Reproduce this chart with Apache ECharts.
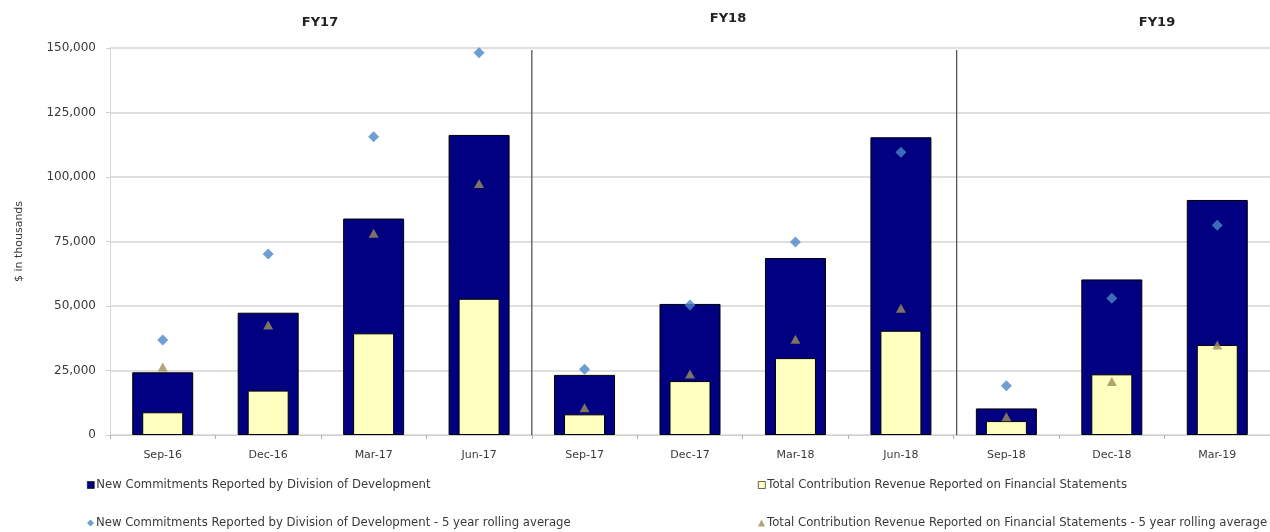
<!DOCTYPE html>
<html>
<head>
<meta charset="utf-8">
<script src="https://cdn.jsdelivr.net/npm/echarts@6/dist/echarts.min.js"></script>
<style>
html,body{margin:0;padding:0;background:#fff;}
#c{width:1270px;height:532px;}
</style>
</head>
<body>
<div id="c"></div>
<script>
var categories = ['Sep-16','Dec-16','Mar-17','Jun-17','Sep-17','Dec-17','Mar-18','Jun-18','Sep-18','Dec-18','Mar-19'];
var newCommitments = [24300, 47400, 83900, 116300, 23300, 50800, 68600, 115400, 10300, 60300, 91100];
var contributionRevenue = [8800, 17200, 39400, 52800, 8000, 20900, 29800, 40400, 5400, 23500, 34900];
var commitmentsAvg = [36800, 70200, 115600, 148200, 25500, 50400, 74800, 109600, 19100, 53000, 81300];
var revenueAvg = [26400, 42600, 78200, 97500, 10600, 23600, 37100, 49100, 7100, 20700, 34900];
var yTicks = [0, 25000, 50000, 75000, 100000, 125000, 150000];
var fiscalYears = ['FY17', 'FY18', 'FY19'];
var fyBoundaries = [['Jun-17','Sep-17'], ['Jun-18','Sep-18']];

var names = [
  'New Commitments Reported by Division of Development',
  'Total Contribution Revenue Reported on Financial Statements',
  'New Commitments Reported by Division of Development - 5 year rolling average',
  'Total Contribution Revenue Reported on Financial Statements - 5 year rolling average'
];
var FONT = 'DejaVu Sans';
var chart = echarts.init(document.getElementById('c'));

function legendAt(name, left, top, icon) {
  return {
    data: [{name: name, icon: icon}],
    left: left, top: top,
    itemWidth: 7, itemHeight: 7, itemGap: 0,
    itemStyle: {borderWidth: 0.6},
    textStyle: {fontFamily: FONT, fontSize: 11.7, color: '#3a3a3a', padding: [0,0,0,-3]},
    selectedMode: false
  };
}

var option = {
  animation: false,
  backgroundColor: '#fff',
  grid: {left: 110, top: 48, bottom: 97, width: 1163, containLabel: false},
  legend: [
    legendAt(names[0], 82, 474, 'rect'),
    legendAt(names[1], 753, 474, 'rect'),
    legendAt(names[2], 82, 512, 'diamond'),
    legendAt(names[3], 753, 512, 'triangle')
  ],
  xAxis: [{
    type: 'category',
    data: categories,
    boundaryGap: true,
    axisLine: {show: true, lineStyle: {color: '#d0d0d0'}},
    axisTick: {show: true, length: 4, lineStyle: {color: '#b0b0b0'}},
    axisLabel: {fontFamily: FONT, fontSize: 11, color: '#3a3a3a', margin: 15}
  }, {
    type: 'category',
    data: categories,
    show: false,
    position: 'bottom'
  }],
  yAxis: {
    type: 'value',
    min: 0, max: 150000, interval: 25000,
    name: '$ in thousands',
    nameLocation: 'middle',
    nameGap: 85,
    nameTextStyle: {fontFamily: FONT, fontSize: 11, color: '#3a3a3a'},
    axisLine: {show: true, lineStyle: {color: '#d8d8d8'}},
    axisTick: {show: true, length: 4, lineStyle: {color: '#d0d0d0'}},
    splitLine: {show: true, lineStyle: {color: '#d4d4d4', width: 1.5}},
    axisLabel: {
      fontFamily: FONT, fontSize: 12, color: '#3a3a3a', margin: 14,
      formatter: function (v) { return v === 0 ? '0' : v.toLocaleString('en-US'); }
    }
  },
  series: [{
    name: names[0], type: 'bar', xAxisIndex: 0,
    data: newCommitments, barWidth: 61,
    itemStyle: {color: '#000080', borderColor: '#000000', borderWidth: 1},
    z: 2
  }, {
    name: names[1], type: 'bar', xAxisIndex: 1,
    data: contributionRevenue, barWidth: 41,
    itemStyle: {color: '#FFFFBF', borderColor: '#000000', borderWidth: 1},
    z: 3
  }, {
    name: names[2], type: 'scatter', xAxisIndex: 0,
    data: commitmentsAvg, symbol: 'diamond', symbolSize: [11, 11],
    itemStyle: {color: '#4A86C8'},
    z: 5
  }, {
    name: names[3], type: 'scatter', xAxisIndex: 0,
    data: revenueAvg, symbol: 'triangle', symbolSize: [10, 9],
    itemStyle: {color: '#9C8E5C'},
    z: 5
  }]
};
chart.setOption(option);

// separators and fiscal year labels positioned through the axes
var yTop = chart.convertToPixel({yAxisIndex: 0}, 150000);
var yBot = chart.convertToPixel({yAxisIndex: 0}, 0);
var graphics = [];
fyBoundaries.forEach(function (pair, i) {
  var x = (chart.convertToPixel({xAxisIndex: 0}, pair[0]) + chart.convertToPixel({xAxisIndex: 0}, pair[1])) / 2 + (i === 1 ? 3 : 0);
  graphics.push({
    type: 'line', silent: true, z: 10,
    shape: {x1: x, y1: yTop + 2, x2: x, y2: yBot},
    style: {stroke: '#555', lineWidth: 1.3}
  });
});
var fyX = [320, 728, 1157];
var fyY = [23, 19, 23];
fiscalYears.forEach(function (fy, i) {
  graphics.push({
    type: 'text', silent: true, z: 10,
    x: fyX[i], y: fyY[i],
    style: {text: fy, fontFamily: FONT, fontSize: 13, fontWeight: 'bold', fill: '#222', align: 'center', verticalAlign: 'middle'}
  });
});
chart.setOption({graphic: graphics});
</script>
</body>
</html>
